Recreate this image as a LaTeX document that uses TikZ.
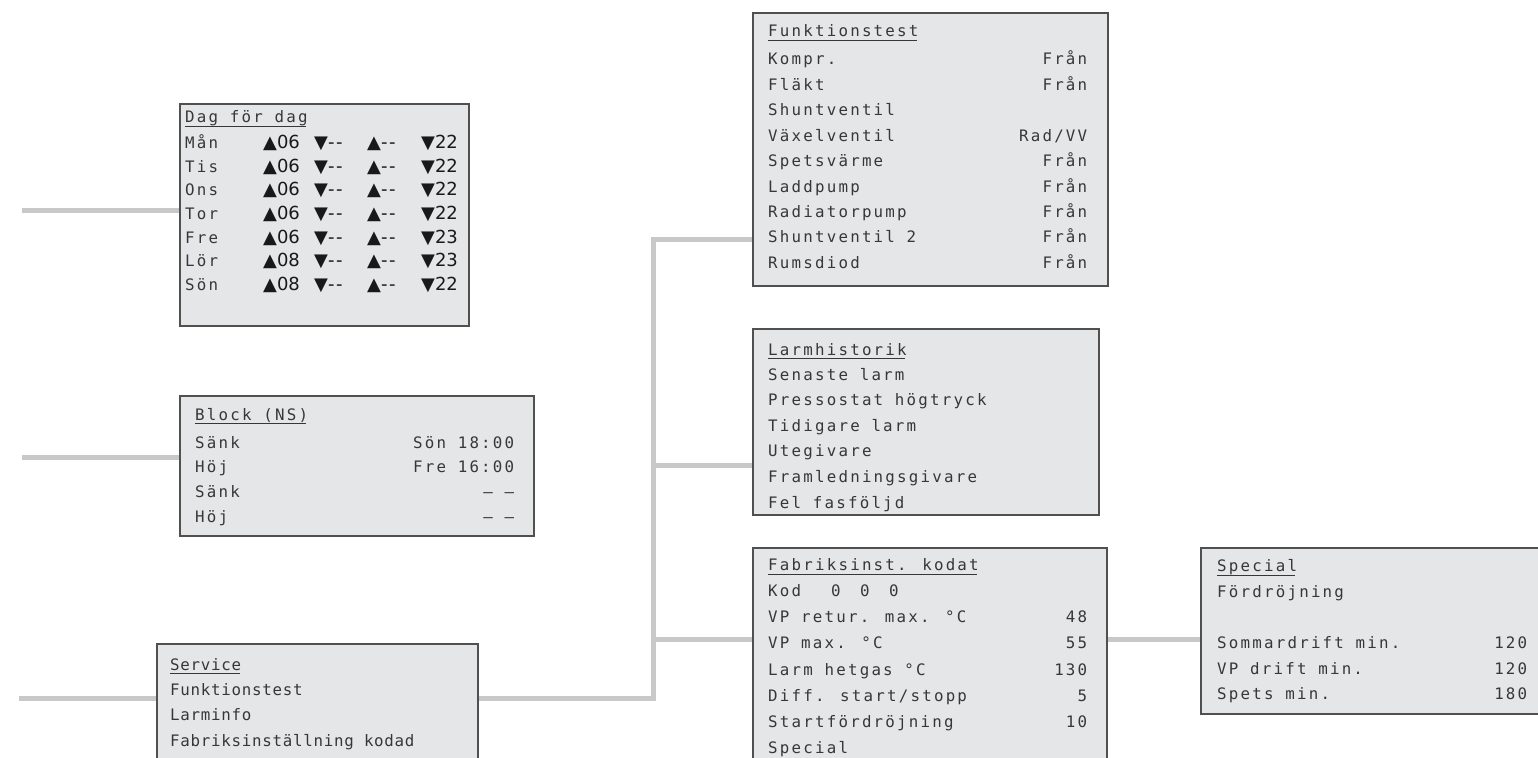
\documentclass[tikz,border=0pt]{standalone}
\usepackage{fontspec}
\newfontfamily\lcd[LetterSpace=14]{DejaVu Sans Mono}
\newfontfamily\lcdn[LetterSpace=4.6]{DejaVu Sans Mono}
\newfontfamily\arr{DejaVu Sans}
\pgfdeclarelayer{bg}
\pgfsetlayers{bg,main}
\definecolor{boxfill}{RGB}{229,230,232}
\definecolor{boxline}{RGB}{80,80,80}
\definecolor{connc}{RGB}{200,200,200}
\definecolor{txt}{RGB}{55,55,55}
\tikzset{
  panel/.style={draw=boxline, line width=1.6pt, fill=boxfill, rectangle, inner sep=0pt, anchor=north west},
  link/.style={draw=connc, line width=5pt, line join=miter},
  lt/.style={anchor=base west, inner sep=0pt, text=txt, font=\lcd\fontsize{15.8}{18}\selectfont},
  rt/.style={lt, anchor=base east},
  ltn/.style={anchor=base west, inner sep=0pt, text=txt, font=\lcdn\fontsize{15.8}{18}\selectfont},
  tri/.style={anchor=base west, inner sep=0pt, text=black!90, font=\arr\fontsize{18}{20}\selectfont},
  ulin/.style={draw=txt, line width=1.2pt},
}
\begin{document}
\begin{tikzpicture}[x=1pt,y=-1pt]
\useasboundingbox (0,0) rectangle (1538,757);
\clip (0,0) rectangle (1538,757);
% panels
\node[panel, minimum width=289pt, minimum height=222pt] (dag) at (179,103) {};
\node[panel, minimum width=354pt, minimum height=140pt] (blk) at (179,395) {};
\node[panel, minimum width=321pt, minimum height=140pt] (svc) at (156,643) {};
\node[panel, minimum width=355pt, minimum height=273pt] (ftest) at (752,12) {};
\node[panel, minimum width=346pt, minimum height=186pt] (larm) at (752,328) {};
\node[panel, minimum width=354pt, minimum height=240pt] (fab) at (752,547) {};
\node[panel, minimum width=360pt, minimum height=166pt] (spec) at (1200,547) {};
% connectors
\coordinate (s1) at (22,210);
\coordinate (s2) at (22,457);
\coordinate (s3) at (19,698);
\coordinate (jt) at (653.5,239.5);
\coordinate (jm) at (653.5,465);
\coordinate (jf) at (653.5,639);
\coordinate (jb) at (653.5,698);
\begin{pgfonlayer}{bg}
\draw[link] (s1) -- (dag.west |- s1);
\draw[link] (s2) -- (blk.west |- s2);
\draw[link] (s3) -- (svc.west |- s3);
\draw[link] (svc.east |- jb) -- (jb) -- (jt) -- (ftest.west |- jt);
\draw[link] (jm) -- (larm.west |- jm);
\draw[link] (jf) -- (fab.west |- jf);
\draw[link] (fab.east |- jf) -- (spec.west |- jf);
\end{pgfonlayer}
% Dag for dag
\node[lt] (dt) at (185,123) {Dag för dag};
\draw[ulin] ([yshift=-3.5pt]dt.base west) -- ([yshift=-3.5pt,xshift=-2pt]dt.base east);
\foreach \d/\a/\b [count=\i] in {Mån/06/22,Tis/06/22,Ons/06/22,Tor/06/22,Fre/06/23,Lör/08/23,Sön/08/22}{
  \node[lt] (dd\i) at (185,{124.6+23.7*\i}) {\d};
  \node[tri] (da\i) at (263,{124.6+23.7*\i}) {▲\a};
  \node[tri] (db\i) at (314,{124.6+23.7*\i}) {▼-\kern1.5pt-};
  \node[tri] (dc\i) at (367,{124.6+23.7*\i}) {▲-\kern1.5pt-};
  \node[tri] (de\i) at (421,{124.6+23.7*\i}) {▼\b};
}
% Block
\node[lt] (bt) at (195,420) {Block (NS)};
\draw[ulin] ([yshift=-3.5pt]bt.base west) -- ([yshift=-3.5pt,xshift=-2pt]bt.base east);
\node[lt] (b1) at (195,448) {Sänk};
\node[rt] (b1v) at (514.4,448) {Sön 18:00};
\node[lt] (b2) at (195,472) {Höj};
\node[rt] (b2v) at (514.4,472) {Fre 16:00};
\node[lt] (b3) at (195,497) {Sänk};
\node[rt] (b3v) at (514.4,497) {– –};
\node[lt] (b4) at (195,522) {Höj};
\node[rt] (b4v) at (514.4,522) {– –};
% Service
\node[ltn] (st) at (170,670) {Service};
\draw[ulin] ([yshift=-3.5pt]st.base west) -- ([yshift=-3.5pt,xshift=-1pt]st.base east);
\node[ltn] (s1t) at (170,695) {Funktionstest};
\node[ltn] (s2t) at (170,720.7) {Larminfo};
\node[ltn] (s3t) at (170,746.7) {Fabriksinställning kodad};
% Funktionstest
\node[lt] (ft) at (768,36.7) {Funktionstest};
\draw[ulin] ([yshift=-3.5pt]ft.base west) -- ([yshift=-3.5pt,xshift=-2pt]ft.base east);
\foreach \l/\v [count=\i] in {Kompr./Från,Fläkt/Från,Shuntventil/{},Växelventil/{Rad/VV},Spetsvärme/Från,Laddpump/Från,Radiatorpump/Från,Shuntventil 2/Från,Rumsdiod/Från}{
  \node[lt] (f\i) at (768,{39.6+25.4*\i}) {\l};
  \node[rt] (fv\i) at (1087.4,{39.6+25.4*\i}) {\v};
}
% Larmhistorik
\node[lt] (lt0) at (768,355) {Larmhistorik};
\draw[ulin] ([yshift=-3.5pt]lt0.base west) -- ([yshift=-3.5pt,xshift=-2pt]lt0.base east);
\foreach \l [count=\i] in {Senaste larm,Pressostat högtryck,Tidigare larm,Utegivare,Framledningsgivare,Fel fasföljd}{
  \node[lt] (l\i) at (768,{354.4+25.6*\i}) {\l};
}
% Fabriksinst
\node[lt] (fbt) at (768,570.7) {Fabriksinst. kodat};
\draw[ulin] ([yshift=-3.5pt]fbt.base west) -- ([yshift=-3.5pt,xshift=-2pt]fbt.base east);
\node[lt] (k) at (768,596.7) {Kod};
\node[lt] (k0) at (831,596.7) {0};
\node[lt] (k1) at (860,596.7) {0};
\node[lt] (k2) at (889,596.7) {0};
\foreach \l/\v [count=\i] in {VP retur. max. °C/48,VP max. °C/55,Larm hetgas °C/130,{Diff. start/stopp}/5,Startfördröjning/10,Special/{}}{
  \node[lt] (fb\i) at (768,{596.7+26.1*\i}) {\l};
  \node[rt] (fbv\i) at (1087.4,{596.7+26.1*\i}) {\v};
}
% Special
\node[lt] (spt) at (1217,571.7) {Special};
\draw[ulin] ([yshift=-3.5pt]spt.base west) -- ([yshift=-3.5pt,xshift=-2pt]spt.base east);
\node[lt] (sp1) at (1217,597.3) {Fördröjning};
\node[lt] (sp2) at (1217,648.3) {Sommardrift min.};
\node[rt] (sp2v) at (1527.4,648.3) {120};
\node[lt] (sp3) at (1217,674) {VP drift min.};
\node[rt] (sp3v) at (1527.4,674) {120};
\node[lt] (sp4) at (1217,699.3) {Spets min.};
\node[rt] (sp4v) at (1527.4,699.3) {180};
\end{tikzpicture}
\end{document}
